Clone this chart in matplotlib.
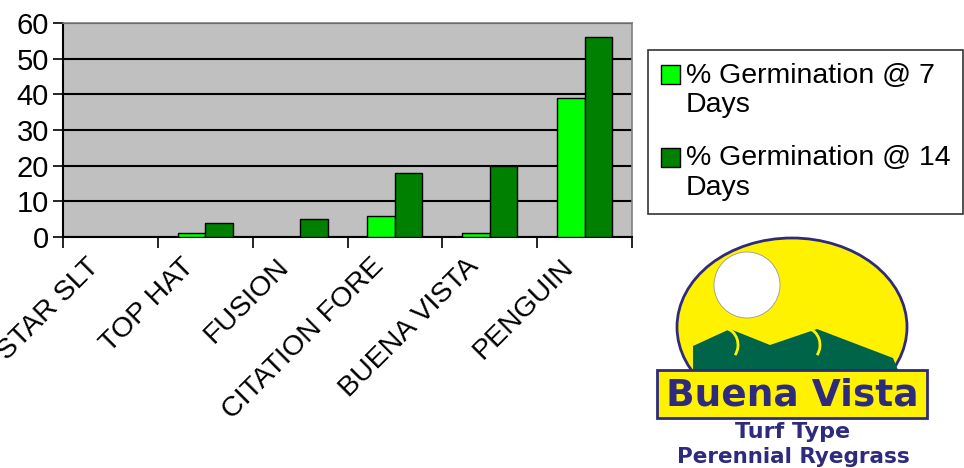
import numpy as np
import matplotlib
matplotlib.use("Agg")
import matplotlib.pyplot as plt
import matplotlib.transforms as mtransforms
from matplotlib.patches import Ellipse, Circle, Polygon, Rectangle, Arc
from matplotlib.legend_handler import HandlerPatch

plt.rcParams['font.family'] = ['Liberation Sans', 'DejaVu Sans']

# data
varieties = ['STAR SLT', 'TOP HAT', 'FUSION', 'CITATION FORE', 'BUENA VISTA', 'PENGUIN']
germ_7 = [0, 1, 0, 6, 1, 39]
germ_14 = [0, 4, 5, 18, 20, 56]
series_names = ['% Germination @ 7\nDays', '% Germination @ 14\nDays']
y_ticks = [0, 10, 20, 30, 40, 50, 60]

W, H = 964, 468
fig = plt.figure(figsize=(W / 100, H / 100), dpi=100)
ax = fig.add_axes([63 / W, 1 - 237 / H, (632 - 63) / W, (237 - 23) / H])
ax.set_facecolor('#C0C0C0')

x = np.arange(len(varieties))
bw = 0.29
b1 = ax.bar(x - bw / 2, germ_7, bw, color='#00FF00', edgecolor='black', linewidth=1,
            label=series_names[0], zorder=3)
b2 = ax.bar(x + bw / 2, germ_14, bw, color='#008000', edgecolor='black', linewidth=1,
            label=series_names[1], zorder=3)

ax.set_xlim(-0.5, len(varieties) - 0.5)
ax.set_ylim(0, 60)
ax.set_yticks(y_ticks)
ax.yaxis.grid(True, color='black', linewidth=1.5, zorder=1)
ax.set_axisbelow(True)
ax.tick_params(axis='y', labelsize=21, length=7, width=1.2, direction='out', pad=3)

# ticks between categories, labels at centres
ax.set_xticks(np.arange(len(varieties) + 1) - 0.5)
ax.set_xticklabels([])
ax.set_xticks(x, minor=True)
ax.set_xticklabels(varieties, minor=True, rotation=45, ha='right', fontsize=20.5)
ax.tick_params(axis='x', which='major', length=8, width=1.2, direction='out')
ax.tick_params(axis='x', which='minor', length=0, pad=4)
shift = mtransforms.ScaledTranslation(-0.06, -0.11, fig.dpi_scale_trans)
for lab in ax.get_xticklabels(minor=True):
    lab.set_transform(lab.get_transform() + shift)

for s in ['left', 'bottom']:
    ax.spines[s].set_color('black')
    ax.spines[s].set_linewidth(1.5)
for s in ['top', 'right']:
    ax.spines[s].set_color('#808080')
    ax.spines[s].set_linewidth(1.2)


# legend square sits next to the first text line
def top_square(legend, orig_handle, xdescent, ydescent, width, height, fontsize):
    return Rectangle((-xdescent, -ydescent + 11.5), height, height)


leg = fig.legend(handles=[b1.patches[0], b2.patches[0]], labels=series_names,
                 loc='upper left', bbox_to_anchor=(648 / W, 1 - 50 / H), fontsize=20.5,
                 frameon=True, fancybox=False, edgecolor='black',
                 handlelength=0.68, handleheight=0.68, handletextpad=0.2,
                 borderpad=0.45, labelspacing=0.95, borderaxespad=0,
                 handler_map={Rectangle: HandlerPatch(patch_func=top_square)})
leg.get_frame().set_linewidth(1.2)
for t in leg.get_texts():
    t.set_linespacing(1.18)

# logo drawn in pixel coordinates
la = fig.add_axes([640 / W, 0, 324 / W, 238 / H])
la.set_xlim(640, 964)
la.set_ylim(468, 230)
la.axis('off')
navy = '#2E2A7E'
yellow = '#FFF200'
dgreen = '#006448'
la.add_patch(Ellipse((792, 327), 230, 178, facecolor=yellow, edgecolor=navy, linewidth=2))
la.add_patch(Circle((747, 285), 33, facecolor='white', edgecolor='#999999', linewidth=0.6))
la.add_patch(Polygon([(693, 346), (730, 329), (770, 345), (817, 329), (893, 358),
                      (898, 370), (693, 370)], closed=True, facecolor=dgreen, edgecolor='none'))
la.add_patch(Arc((723, 345), 30, 34, theta1=-80, theta2=40, color=yellow, linewidth=2))
la.add_patch(Arc((805, 345), 30, 34, theta1=-80, theta2=40, color=yellow, linewidth=2))
la.add_patch(Rectangle((657, 370), 270, 48, facecolor=yellow, edgecolor=navy, linewidth=2))
la.text(792, 395, 'Buena Vista', ha='center', va='center', fontsize=27,
        fontweight='heavy', color=navy, family='DejaVu Sans')
la.text(793, 432, 'Turf Type', ha='center', va='center', fontsize=16,
        fontweight='bold', color=navy, family='DejaVu Sans')
la.text(793, 457, 'Perennial Ryegrass', ha='center', va='center', fontsize=15.5,
        fontweight='bold', color=navy, family='DejaVu Sans')

fig.savefig('out.png', dpi=100)
